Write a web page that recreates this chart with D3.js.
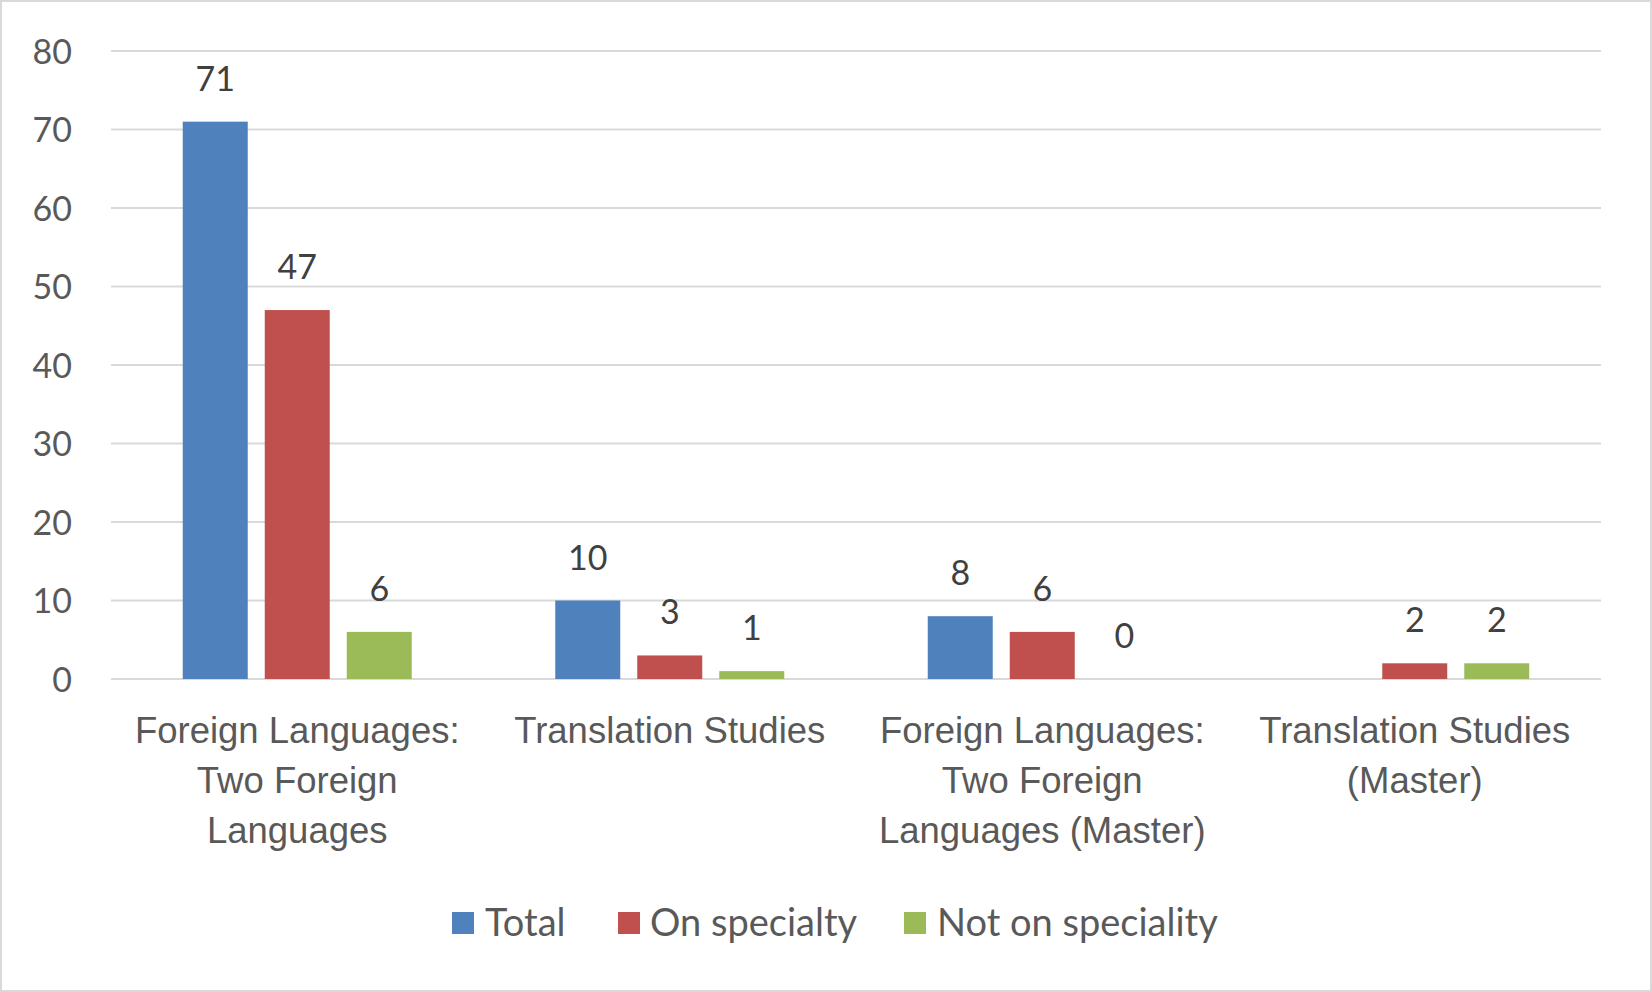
<!DOCTYPE html>
<html><head><meta charset="utf-8">
<script src="https://cdn.jsdelivr.net/npm/d3@7"></script>
<style>
html,body{margin:0;padding:0;background:#fff;}
svg{display:block;font-family:Lato, "Open Sans", sans-serif;}
</style></head>
<body><svg id="c" width="1652" height="992"></svg>
<script>
const categories = ["Foreign Languages: Two Foreign Languages", "Translation Studies", "Foreign Languages: Two Foreign Languages (Master)", "Translation Studies (Master)"];
const seriesNames = ["Total", "On specialty", "Not on speciality"];
const total = [71, 10, 8, null];
const onSpecialty = [47, 3, 6, 2];
const notOnSpeciality = [6, 1, 0, 2];
const yTicks = [0, 10, 20, 30, 40, 50, 60, 70, 80];
const colors = ["#4F81BD", "#C0504D", "#9BBB59"];

(function(){
const series = [total, onSpecialty, notOnSpeciality];
const svg = d3.select("#c");
const W = 1652, H = 992;
svg.append("rect").attr("x",1).attr("y",1).attr("width",W-2).attr("height",H-2)
  .attr("fill","#fff").attr("stroke","#D9D9D9").attr("stroke-width",2);

const pLeft = 111, pRight = 1601, pTop = 51, pBottom = 679;
const x = d3.scaleBand().domain(categories).range([pLeft, pRight]).paddingInner(0).paddingOuter(0);
const y = d3.scaleLinear().domain([0, 80]).range([pBottom, pTop]);
const barW = 65, step = 82;

svg.append("g").selectAll("line").data(yTicks).join("line")
  .attr("x1", pLeft).attr("x2", pRight)
  .attr("y1", d => y(d)).attr("y2", d => y(d))
  .attr("stroke", "#D9D9D9").attr("stroke-width", 2);

const yAxis = d3.axisLeft(y).tickValues(yTicks).tickSize(0).tickPadding(0);
const gy = svg.append("g").attr("transform", `translate(72,0)`).call(yAxis);
gy.select(".domain").remove();
gy.selectAll("text").attr("font-size", 34).attr("fill", "#595959")
  .attr("font-family", "Lato, sans-serif").attr("dy", "0.36em");

series.forEach((vals, si) => {
  const g = svg.append("g");
  const data = categories.map((c, i) => ({c, v: vals[i]})).filter(d => d.v !== null);
  const cx = d => x(d.c) + x.bandwidth()/2 + (si - 1) * step;
  g.selectAll("rect").data(data).join("rect")
    .attr("x", d => cx(d) - barW/2).attr("width", barW)
    .attr("y", d => y(d.v)).attr("height", d => y(0) - y(d.v))
    .attr("fill", colors[si]);
  g.selectAll("text").data(data).join("text")
    .attr("x", cx).attr("y", d => y(d.v) - 31)
    .attr("text-anchor", "middle").attr("font-size", 34).attr("fill", "#404040")
    .text(d => d.v);
});

const xAxis = d3.axisBottom(x).tickSize(0).tickPadding(0);
const gx = svg.append("g").attr("transform", `translate(0,${pBottom})`).call(xAxis);
gx.select(".domain").remove();
gx.selectAll("text").attr("font-size", 36.5).attr("fill", "#595959").attr("dy", null).attr("y", 0)
  .each(function(d) {
    const t = d3.select(this);
    const words = d.split(" ");
    t.text(null);
    let lines = [], line = [];
    const tmp = t.append("tspan");
    words.forEach(w => {
      line.push(w);
      tmp.text(line.join(" "));
      if (tmp.node().getComputedTextLength() > 345 && line.length > 1) {
        line.pop(); lines.push(line.join(" ")); line = [w];
      }
    });
    lines.push(line.join(" "));
    tmp.remove();
    lines.forEach((l, i) => {
      t.append("tspan").attr("x", 0).attr("y", 64 + i * 50).text(l);
    });
  });

const legendItems = [
  {name: seriesNames[0], sx: 452, tx: 485},
  {name: seriesNames[1], sx: 618, tx: 650},
  {name: seriesNames[2], sx: 904, tx: 937}
];
const lg = svg.append("g");
lg.selectAll("rect").data(legendItems).join("rect")
  .attr("x", d => d.sx).attr("y", 912).attr("width", 22).attr("height", 22)
  .attr("fill", (d, i) => colors[i]);
lg.selectAll("text").data(legendItems).join("text")
  .attr("x", d => d.tx).attr("y", 936).attr("font-size", 38).attr("fill", "#595959")
  .text(d => d.name);
})();
</script></body></html>
